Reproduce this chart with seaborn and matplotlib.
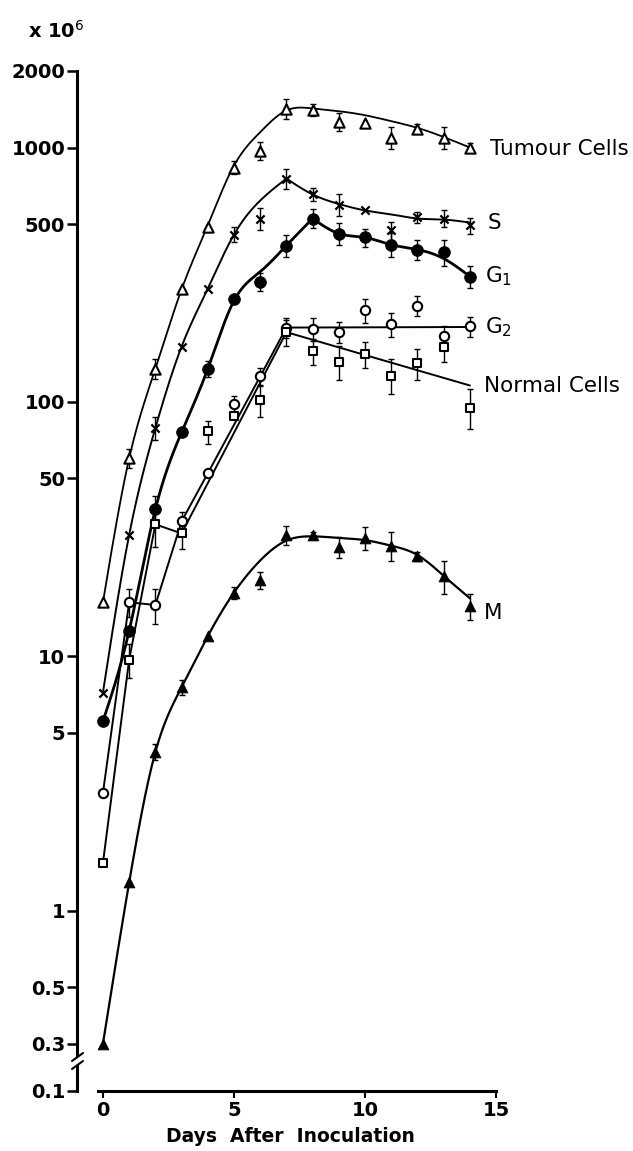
import numpy as np
import pandas as pd
import matplotlib
matplotlib.use("Agg")
import matplotlib.pyplot as plt
from matplotlib.ticker import NullLocator
import seaborn as sns

# ---------------- data (cells x 10^6) ----------------
days = list(range(15))

tumour = [16.3, 60, 135, 277, 485, 834, 973, 1423, 1410, 1265, 1254, 1095, 1188, 1095, 1000]
tumour_err = [0, 5, 12, 0, 0, 50, 80, 130, 80, 100, 0, 110, 45, 110, 40]
tumour_curve = [16.3, 60, 135, 277, 495, 850, 1150, 1400, 1425, 1390, 1340, 1270, 1195, 1100, 1000]

s_phase = [7.2, 30, 79, 165, 279, 455, 526, 755, 654, 597, 566, 472, 531, 526, 494]
s_err = [0, 0, 8, 0, 0, 30, 50, 65, 40, 60, 0, 40, 25, 40, 35]
s_curve = [7.2, 30, 79, 165, 279, 455, 619, 755, 654, 600, 566, 546, 526, 521, 507]

g1 = [5.55, 12.6, 37.8, 75.9, 135, 253, 297, 412, 526, 459, 443, 415, 397, 387, 311]
g1_err = [0, 0, 5, 0, 10, 0, 25, 40, 45, 45, 35, 45, 35, 45, 30]
g1_curve = [5.55, 12.6, 37.8, 75.9, 135, 250, 325, 412, 526, 459, 443, 415, 397, 366, 311]

g2 = [2.9, 16.3, 15.9, 33.9, 52.4, 97.8, 126, 196, 194, 189, 229, 202, 239, 181, 198]
g2_err = [0, 2, 2.5, 3, 0, 8, 10, 18, 20, 18, 25, 22, 22, 18, 18]
g2_line_days = [0, 1, 2, 3, 4, 6, 7, 14]
g2_line = [2.9, 16.3, 15.9, 33.9, 52.4, 126, 196, 197]

normal = [1.54, 9.7, 33, 30.4, 76.5, 87.7, 102, 188, 158, 144, 154, 127, 142, 164, 95]
normal_err = [0, 1.5, 6, 4, 8, 0, 15, 22, 18, 22, 18, 20, 20, 20, 17]
normal_line_days = [0, 1, 2, 3, 7, 14]
normal_line = [1.54, 9.7, 33, 30.4, 188, 116]

mitosis = [0.30, 1.29, 4.2, 7.55, 12.0, 17.8, 19.9, 29.9, 29.9, 26.8, 29.1, 27.2, 24.7, 20.6, 15.7]
mitosis_err = [0, 0, 0.3, 0.5, 0, 1, 1.5, 2.5, 1, 2.5, 3, 3.5, 1, 3, 1.8]
mitosis_curve = [0.30, 1.29, 4.2, 7.55, 12.0, 17.8, 23.8, 28.5, 29.6, 29.2, 28.6, 27.2, 25.0, 20.7, 16.9]

y_ticks = [0.3, 0.5, 1, 5, 10, 50, 100, 500, 1000, 2000]
y_tick_labels = ["0.3", "0.5", "1", "5", "10", "50", "100", "500", "1000", "2000"]
x_ticks = [0, 5, 10, 15]

labels = ["Tumour Cells", "S", "G$_1$", "G$_2$", "Normal Cells", "M"]
label_x = [14.77, 14.66, 14.58, 14.58, 14.54, 14.54]
label_y = [991, 507, 311, 196, 115, 14.8]


def smooth(xk, yk, n=30):
    """Natural cubic spline through the drawn-curve knots, in log space."""
    x = np.asarray(xk, float)
    y = np.log10(np.asarray(yk, float))
    N = len(x)
    h = np.diff(x)
    A = np.zeros((N, N))
    r = np.zeros(N)
    A[0, 0] = 1
    A[-1, -1] = 1
    for i in range(1, N - 1):
        A[i, i - 1] = h[i - 1]
        A[i, i] = 2 * (h[i - 1] + h[i])
        A[i, i + 1] = h[i]
        r[i] = 3 * ((y[i + 1] - y[i]) / h[i] - (y[i] - y[i - 1]) / h[i - 1])
    c = np.linalg.solve(A, r)
    xs, ys = [], []
    for i in range(N - 1):
        b = (y[i + 1] - y[i]) / h[i] - h[i] * (2 * c[i] + c[i + 1]) / 3
        d = (c[i + 1] - c[i]) / (3 * h[i])
        t = np.linspace(0, h[i], n, endpoint=(i == N - 2))
        xs.append(x[i] + t)
        ys.append(y[i] + b * t + c[i] * t ** 2 + d * t ** 3)
    return np.concatenate(xs), 10 ** np.concatenate(ys)


sns.set_theme(style="ticks")
plt.rcParams["font.family"] = ["DejaVu Sans"]
plt.rcParams["mathtext.fontset"] = "dejavusans"
plt.rcParams["text.color"] = "black"
plt.rcParams["axes.labelcolor"] = "black"

W, H = 633, 1151
fig = plt.figure(figsize=(W / 100, H / 100), dpi=100)
x_left_px, x_right_px = 77, 504
ax = fig.add_axes([x_left_px / W, 1 - 1055 / H, (x_right_px - x_left_px) / W, (1055 - 71) / H])
axb = fig.add_axes([x_left_px / W, 1 - 1091 / H, (x_right_px - x_left_px) / W, (1091 - 1066) / H])

for a in (ax, axb):
    a.set_yscale("log")
    a.set_xlim(-0.99, 15.3)
ax.set_ylim(0.2705, 2000)
axb.set_ylim(0.1, 0.1254)

# curves
line_kw = dict(color="black", estimator=None, sort=False, legend=False)
cx, cy = smooth(days, tumour_curve)
sns.lineplot(x=cx, y=cy, ax=ax, lw=1.3, **line_kw)
cx, cy = smooth(days[:8], s_curve[:8])
sns.lineplot(x=cx, y=cy, ax=ax, lw=1.4, **line_kw)
cx, cy = smooth(days[7:], s_curve[7:])
sns.lineplot(x=cx, y=cy, ax=ax, lw=1.4, **line_kw)
cx, cy = smooth(days[:9], g1_curve[:9])
sns.lineplot(x=cx, y=cy, ax=ax, lw=2.0, **line_kw)
cx, cy = smooth(days[8:], g1_curve[8:])
sns.lineplot(x=cx, y=cy, ax=ax, lw=2.0, **line_kw)
sns.lineplot(x=g2_line_days, y=g2_line, ax=ax, lw=1.4, **line_kw)
sns.lineplot(x=normal_line_days, y=normal_line, ax=ax, lw=1.4, **line_kw)
cx, cy = smooth(days, mitosis_curve)
sns.lineplot(x=cx, y=cy, ax=ax, lw=1.6, **line_kw)

# error bars
for vals, errs in ((tumour, tumour_err), (s_phase, s_err), (g1, g1_err),
                   (g2, g2_err), (normal, normal_err), (mitosis, mitosis_err)):
    d = [dd for dd, e in zip(days, errs) if e > 0]
    v = [vv for vv, e in zip(vals, errs) if e > 0]
    e = [ee for ee in errs if ee > 0]
    ax.errorbar(d, v, yerr=e, fmt="none", ecolor="black", elinewidth=1.0,
                capsize=2.5, capthick=1.0, zorder=3)

# markers
df = pd.DataFrame({"day": days, "tumour": tumour, "s": s_phase, "g1": g1,
                   "g2": g2, "normal": normal, "m": mitosis})
sns.scatterplot(data=df, x="day", y="tumour", marker="^", s=55, color="white",
                edgecolor="black", linewidth=1.5, ax=ax, zorder=5)
sns.scatterplot(data=df, x="day", y="s", marker="x", s=35, color="black",
                linewidth=1.6, ax=ax, zorder=5)
sns.scatterplot(data=df, x="day", y="g1", marker="o", s=70, color="black",
                edgecolor="black", ax=ax, zorder=5)
sns.scatterplot(data=df, x="day", y="g2", marker="o", s=45, color="white",
                edgecolor="black", linewidth=1.5, ax=ax, zorder=5)
sns.scatterplot(data=df, x="day", y="normal", marker="s", s=32, color="white",
                edgecolor="black", linewidth=1.5, ax=ax, zorder=5)
sns.scatterplot(data=df, x="day", y="m", marker="^", s=60, color="black",
                edgecolor="black", ax=ax, zorder=5)

# series labels
for t, lx, ly in zip(labels, label_x, label_y):
    ax.text(lx, ly, t, ha="left", va="center", fontsize=15.5, color="black", clip_on=False)

# axes styling
ax.set_xlabel("")
ax.set_ylabel("")
axb.set_ylabel("")
for a in (ax, axb):
    for sp in ("top", "right"):
        a.spines[sp].set_visible(False)
    a.spines["left"].set_linewidth(2.2)
    a.spines["left"].set_color("black")
    a.yaxis.set_minor_locator(NullLocator())
    a.set_facecolor("none")
ax.spines["bottom"].set_visible(False)
ax.tick_params(axis="x", bottom=False, labelbottom=False)
ax.set_yticks(y_ticks)
ax.set_yticklabels(y_tick_labels)
axb.set_yticks([0.1])
axb.set_yticklabels(["0.1"])
for a in (ax, axb):
    a.tick_params(axis="y", which="major", length=7, width=1.8, pad=1.5,
                  labelsize=14, colors="black")
    for lab in a.get_yticklabels():
        lab.set_fontweight("bold")

axb.spines["bottom"].set_linewidth(2.2)
axb.spines["bottom"].set_color("black")
axb.spines["bottom"].set_bounds(-0.2, 15)
axb.set_xticks(x_ticks)
axb.set_xticklabels([str(v) for v in x_ticks])
axb.xaxis.set_minor_locator(NullLocator())
axb.tick_params(axis="x", length=5, width=1.5, pad=2, labelsize=14, colors="black")
for lab in axb.get_xticklabels():
    lab.set_fontweight("bold")
axb.set_xlabel("Days  After  Inoculation", fontsize=13.5, fontweight="bold",
               labelpad=5, color="black")

# axis break marks
for y0 in (1053, 1061):
    fig.add_artist(plt.Line2D([72 / W, 83 / W], [1 - (y0 + 8) / H, 1 - y0 / H],
                              color="black", lw=1.5))

fig.text(28 / W, 1 - 38 / H, r"x 10$^{6}$", fontsize=14, fontweight="bold",
         va="baseline", color="black")

fig.savefig("out.png", dpi=100)
